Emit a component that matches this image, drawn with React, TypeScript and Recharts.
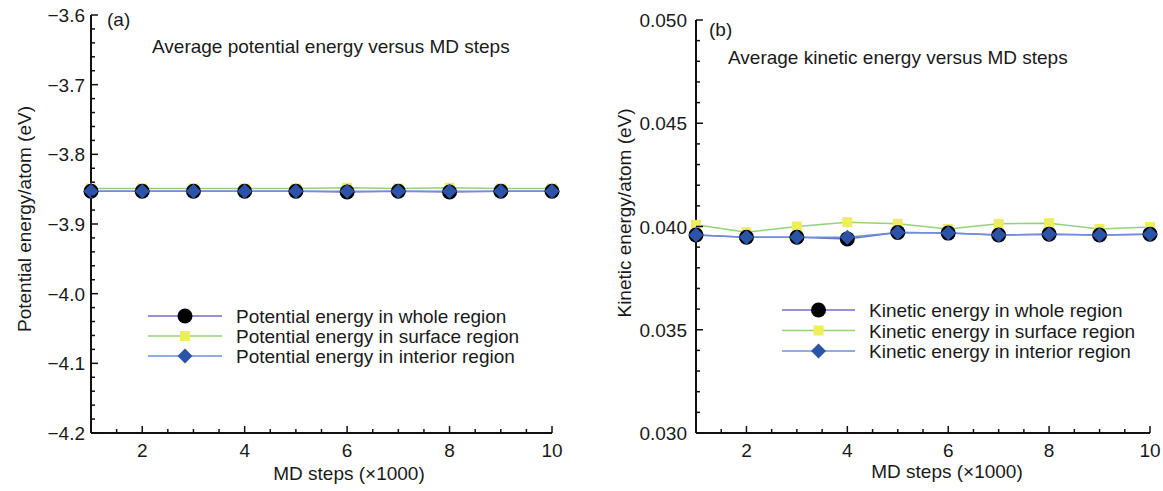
import { LineChart, Line, XAxis, YAxis } from 'recharts';

const steps = [1, 2, 3, 4, 5, 6, 7, 8, 9, 10];

// (a) potential energy per atom, eV
const peWhole = [-3.853, -3.853, -3.853, -3.853, -3.853, -3.854, -3.853, -3.854, -3.853, -3.853];
const peSurface = [-3.849, -3.849, -3.849, -3.849, -3.849, -3.848, -3.849, -3.848, -3.849, -3.849];
const peInterior = [-3.853, -3.853, -3.853, -3.853, -3.853, -3.853, -3.853, -3.853, -3.853, -3.853];

// (b) kinetic energy per atom, eV
const keWhole = [0.03959, 0.03948, 0.03948, 0.0394, 0.03971, 0.03968, 0.03959, 0.03963, 0.03959, 0.03963];
const keSurface = [0.04008, 0.03972, 0.04, 0.04021, 0.04013, 0.03988, 0.04013, 0.04016, 0.03988, 0.03997];
const keInterior = [0.03959, 0.03948, 0.03948, 0.03948, 0.03971, 0.03968, 0.03959, 0.03963, 0.03959, 0.03963];

const xMajor = [2, 4, 6, 8, 10];
const peMajor = [-3.6, -3.7, -3.8, -3.9, -4.0, -4.1, -4.2];
const keMajor = [0.05, 0.045, 0.04, 0.035, 0.03];

const peLabels = ['Potential energy in whole region', 'Potential energy in surface region', 'Potential energy in interior region'];
const keLabels = ['Kinetic energy in whole region', 'Kinetic energy in surface region', 'Kinetic energy in interior region'];

const FONT = "'Liberation Sans', Arial, sans-serif";
const FS = 19;
const TXT = '#1a1a1a';
const C_WHOLE = '#6f6fcc';
const C_SURF = '#93d476';
const C_INT = '#6d8fdc';
const M_SURF = '#eeee5c';
const M_INT = '#2b54a8';

const range = (from: number, to: number, step: number) => {
  const out: number[] = [];
  const n = Math.round((to - from) / step);
  for (let i = 0; i <= n; i++) out.push(Number((from + i * step).toFixed(5)));
  return out;
};

const xTicks = range(1, 10, 0.5);
const peTicks = range(-4.2, -3.6, 0.02);
const keTicks = range(0.03, 0.05, 0.001);

const isIn = (list: number[], v: number) => list.some((m) => Math.abs(m - v) < 1e-7);

const peData = steps.map((s, i) => ({ step: s, whole: peWhole[i], surface: peSurface[i], interior: peInterior[i] }));
const keData = steps.map((s, i) => ({ step: s, whole: keWhole[i], surface: keSurface[i], interior: keInterior[i] }));

const Circle = ({ cx, cy, r = 7.5 }: any) => <circle cx={cx} cy={cy} r={r} fill="#000" />;
const Square = ({ cx, cy, s = 10 }: any) => <rect x={cx - s / 2} y={cy - s / 2} width={s} height={s} fill={M_SURF} />;
const Diamond = ({ cx, cy, r = 7.5 }: any) => (
  <polygon points={`${cx},${cy - r} ${cx + r},${cy} ${cx},${cy + r} ${cx - r},${cy}`} fill={M_INT} />
);

const XTick = ({ x, y, payload }: any) => {
  const major = isIn(xMajor, payload.value);
  return (
    <g>
      <line x1={x} x2={x} y1={y} y2={y - (major ? 7 : 4)} stroke="#111" strokeWidth={1.5} />
      {major && (
        <text x={x} y={y + 24} textAnchor="middle" fontSize={FS} fontFamily={FONT} fill={TXT}>
          {payload.value}
        </text>
      )}
    </g>
  );
};

const makeYTick = (majors: number[], fmt: (v: number) => string, gap: number) => ({ x, y, payload }: any) => {
  const major = isIn(majors, payload.value);
  return (
    <g>
      <line x1={x} x2={x + (major ? 7 : 4)} y1={y} y2={y} stroke="#111" strokeWidth={1.5} />
      {major && (
        <text x={x - gap} y={y + 7} textAnchor="end" fontSize={FS} fontFamily={FONT} fill={TXT}>
          {fmt(payload.value)}
        </text>
      )}
    </g>
  );
};

const PeYTick = makeYTick(peMajor, (v) => v.toFixed(1).replace('-', '\u2212'), 6);
const KeYTick = makeYTick(keMajor, (v) => v.toFixed(3), 9);

const LegendBox = ({ left, top, labels, lineStart, lineEnd, textLeft, rowGap }: any) => {
  const mid = (lineStart + lineEnd) / 2;
  const colors = [C_WHOLE, C_SURF, C_INT];
  return (
    <div style={{ position: 'absolute', left, top, width: 420, height: 72 }}>
      <svg width={420} height={72} style={{ position: 'absolute', left: 0, top: 0 }}>
        {labels.map((_: string, i: number) => {
          const cy = 10 + i * rowGap;
          return (
            <g key={i}>
              <line x1={lineStart} x2={lineEnd} y1={cy} y2={cy} stroke={colors[i]} strokeWidth={1.5} />
              {i === 0 && <Circle cx={mid} cy={cy} />}
              {i === 1 && <Square cx={mid} cy={cy} />}
              {i === 2 && <Diamond cx={mid} cy={cy} />}
              <text x={textLeft} y={cy + 7} fontSize={FS} fontFamily={FONT} fill={TXT}>
                {labels[i]}
              </text>
            </g>
          );
        })}
      </svg>
    </div>
  );
};

const Txt = ({ left, top, children, rotate, center }: any) => (
  <div
    style={{
      position: 'absolute',
      left,
      top,
      fontFamily: FONT,
      fontSize: FS,
      color: TXT,
      whiteSpace: 'nowrap',
      lineHeight: '19px',
      transform: rotate
        ? 'translate(-50%, -50%) rotate(-90deg)'
        : center
        ? 'translate(-50%, -50%)'
        : undefined,
    }}
  >
    {children}
  </div>
);

const Panel = ({ data, ticks, domain, YTick, yWidth, marginTop, marginRight }: any) => (
  <LineChart width={581} height={491} data={data} margin={{ top: marginTop, right: marginRight, bottom: 18, left: 0 }}>
    <XAxis
      dataKey="step"
      type="number"
      domain={[1, 10]}
      ticks={xTicks}
      interval={0}
      tickSize={0}
      tickMargin={0}
      tick={<XTick />}
      height={40}
      axisLine={{ stroke: '#111', strokeWidth: 2 }}
      tickLine={false}
    />
    <YAxis
      type="number"
      domain={domain}
      ticks={ticks}
      interval={0}
      tickSize={0}
      tickMargin={0}
      tick={<YTick />}
      width={yWidth}
      axisLine={{ stroke: '#111', strokeWidth: 2 }}
      tickLine={false}
      allowDataOverflow
    />
    <Line dataKey="surface" stroke={C_SURF} strokeWidth={1.5} dot={(p: any) => <Square key={`s${p.index}`} cx={p.cx} cy={p.cy} />} isAnimationActive={false} />
    <Line dataKey="whole" stroke={C_WHOLE} strokeWidth={1.5} dot={(p: any) => <Circle key={`w${p.index}`} cx={p.cx} cy={p.cy} />} isAnimationActive={false} />
    <Line dataKey="interior" stroke={C_INT} strokeWidth={1.5} dot={(p: any) => <Diamond key={`i${p.index}`} cx={p.cx} cy={p.cy} />} isAnimationActive={false} />
  </LineChart>
);

export default function App() {
  return (
    <div style={{ position: 'absolute', left: 0, top: 0, width: 1163, height: 491, background: '#fff', overflow: 'hidden' }}>
      <div style={{ position: 'absolute', left: 0, top: 0 }}>
        <Panel data={peData} ticks={peTicks} domain={[-4.2, -3.6]} YTick={PeYTick} yWidth={91} marginTop={15} marginRight={29} />
      </div>
      <div style={{ position: 'absolute', left: 582, top: 0 }}>
        <Panel data={keData} ticks={keTicks} domain={[0.03, 0.05]} YTick={KeYTick} yWidth={114} marginTop={20} marginRight={13} />
      </div>

      <Txt left={107} top={10}>(a)</Txt>
      <Txt left={152} top={37}>Average potential energy versus MD steps</Txt>
      <Txt left={709} top={20}>(b)</Txt>
      <Txt left={728} top={48}>Average kinetic energy versus MD steps</Txt>

      <Txt left={24} top={219} rotate>Potential energy/atom (eV)</Txt>
      <Txt left={624} top={213} rotate>Kinetic energy/atom (eV)</Txt>

      <Txt left={349} top={473} center>MD steps (×1000)</Txt>
      <Txt left={947} top={471} center>MD steps (×1000)</Txt>

      <LegendBox left={140} top={306} labels={peLabels} lineStart={8} lineEnd={82} textLeft={96} rowGap={20} />
      <LegendBox left={772} top={300} labels={keLabels} lineStart={10} lineEnd={83} textLeft={97} rowGap={20.5} />
    </div>
  );
}
